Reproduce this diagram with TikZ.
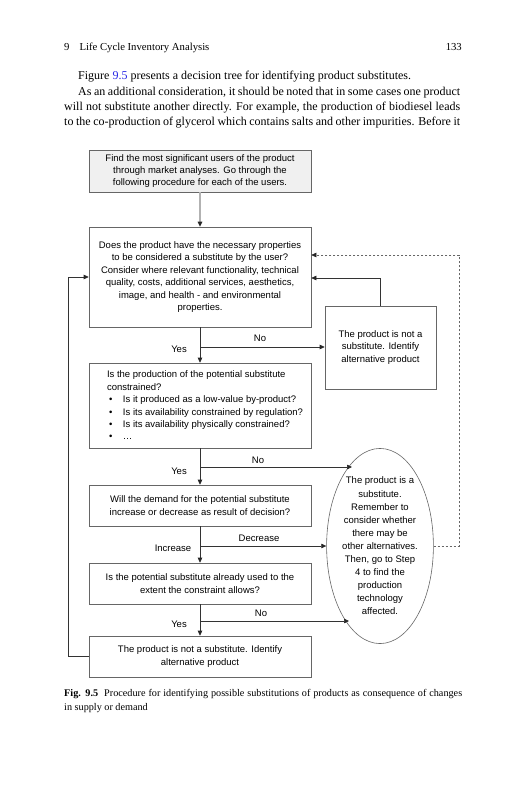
\documentclass[tikz,border=0pt]{standalone}
\usepackage{fontspec}
\setmainfont{Liberation Serif}
\newfontfamily\diagfont{Liberation Sans}
\usetikzlibrary{arrows.meta,shapes.geometric}
\definecolor{linkblue}{RGB}{40,40,230}
\tikzset{
  box/.style={draw=black!60, line width=0.6pt, minimum width=222pt, align=center, inner sep=2pt, font=\diagfont\fontsize{9.5}{12.4}\selectfont},
  conn/.style={draw=black!80, line width=0.6pt, -{Triangle[length=5pt,width=4.5pt,color=black!85]}},
  lbl/.style={font=\diagfont\fontsize{9.5}{12.4}\selectfont, inner sep=0pt},
  bodyline/.style={anchor=base west, inner sep=0pt, font=\fontsize{12}{14.3}\selectfont},
  capline/.style={anchor=base west, inner sep=0pt, font=\fontsize{10.2}{13}\selectfont},
}
\newcommand{\bul}{\makebox[16pt][l]{\hspace{2pt}\textbullet}}
\begin{document}
\begin{tikzpicture}[x=1pt,y=-1pt]
\useasboundingbox (0,0) rectangle (527,800);
% header
\node[anchor=base west, inner sep=0pt, font=\fontsize{10.7}{12}\selectfont] (hdr) at (64,51) {9\hspace{10pt}Life Cycle Inventory Analysis};
\node[anchor=base east, inner sep=0pt, font=\fontsize{10.7}{12}\selectfont] (pg) at (462,51) {133};
% body text
\node[bodyline] (t1) at (78,80) {Figure \textcolor{linkblue}{9.5} presents a decision tree for identifying product substitutes.};
\node[bodyline] (t2) at (78,95) {\makebox[382pt][s]{As an additional consideration, it should be noted that in some cases one product}};
\node[bodyline] (t3) at (64,110) {\makebox[396pt][s]{will not substitute another directly. For example, the production of biodiesel leads}};
\node[bodyline] (t4) at (64,125) {\makebox[396pt][s]{to the co-production of glycerol which contains salts and other impurities. Before it}};
% diagram
\node[box, fill=black!6, minimum height=42pt] (b1) at (200,171) {Find the most significant users of the product\\through market analyses. Go through the\\following procedure for each of the users.};
\node[box, minimum height=100pt] (b2) at (200,277) {Does the product have the necessary properties\\to be considered a substitute by the user?\\Consider where relevant functionality, technical\\quality, costs, additional services, aesthetics,\\image, and health - and environmental\\properties.};
\node[box, minimum width=111pt, minimum height=83pt] (ns) at (380.5,347.5) {The product is not a\\substitute. Identify\\alternative product};
\node[box, minimum height=85pt, align=left] (b3) at (200,405.5) {%
\begin{minipage}{206pt}\raggedright\leftskip=10pt
Is the production of the potential substitute\\constrained?\\
\bul Is it produced as a low-value by-product?\\
\bul Is its availability constrained by regulation?\\
\bul Is its availability physically constrained?\\
\bul\dots
\end{minipage}};
\node[box, ellipse, minimum width=106pt, minimum height=186pt, inner sep=0pt, font=\diagfont\fontsize{9.5}{13.1}\selectfont] (el) at (380,546) {The product is a\\substitute.\\Remember to\\consider whether\\there may be\\other alternatives.\\Then, go to Step\\4 to find the\\production\\technology\\affected.};
\node[box, minimum height=41pt] (b4) at (200,505.5) {Will the demand for the potential substitute\\increase or decrease as result of decision?};
\node[box, minimum height=41pt] (b5) at (200,583.5) {Is the potential substitute already used to the\\extent the constraint allows?};
\node[box, minimum height=41pt] (b6) at (200,656.5) {The product is not a substitute. Identify\\alternative product};
\coordinate (e1) at (352,467);
\coordinate (e3) at (349,621);
% connectors
\draw[conn, draw=black!30, line width=1.3pt] (b1) -- (b2);
\draw[conn] (b2) -- (b3);
\draw[conn] (b2.south |- 0,347) -- (ns.west |- 0,347);
\draw[conn] (b3) -- (b4);
\draw[conn] (b3.south |- e1) -- (e1);
\draw[conn] (b4) -- (b5);
\draw[conn] (b4.south |- el.west) -- (el.west);
\draw[conn] (b5) -- (b6);
\draw[conn] (b5.south |- e3) -- (e3);
\draw[conn] (ns.north) |- (b2.east |- 0,278);
\draw[conn, dash pattern=on 2.5pt off 1.5pt, draw=black!60] (el.east) -- (459,546) |- (b2.east |- 0,255);
\draw[conn] (b6.west) -- (68,656.5) |- (b2.west |- 0,277);
% labels
\node[lbl] (y1) at (179,349) {Yes};
\node[lbl] (n1) at (260,338) {No};
\node[lbl] (y2) at (179,471) {Yes};
\node[lbl] (n2) at (258,460) {No};
\node[lbl] (inc) at (173,548) {Increase};
\node[lbl] (dec) at (259,538) {Decrease};
\node[lbl] (y3) at (179,624) {Yes};
\node[lbl] (n3) at (261,613) {No};
% caption
\node[capline] (cap1) at (64,696) {\makebox[398pt][s]{\textbf{Fig. 9.5}\hspace{6pt}Procedure for identifying possible substitutions of products as consequence of changes}};
\node[capline] (cap2) at (64,710) {in supply or demand};
\end{tikzpicture}
\end{document}
